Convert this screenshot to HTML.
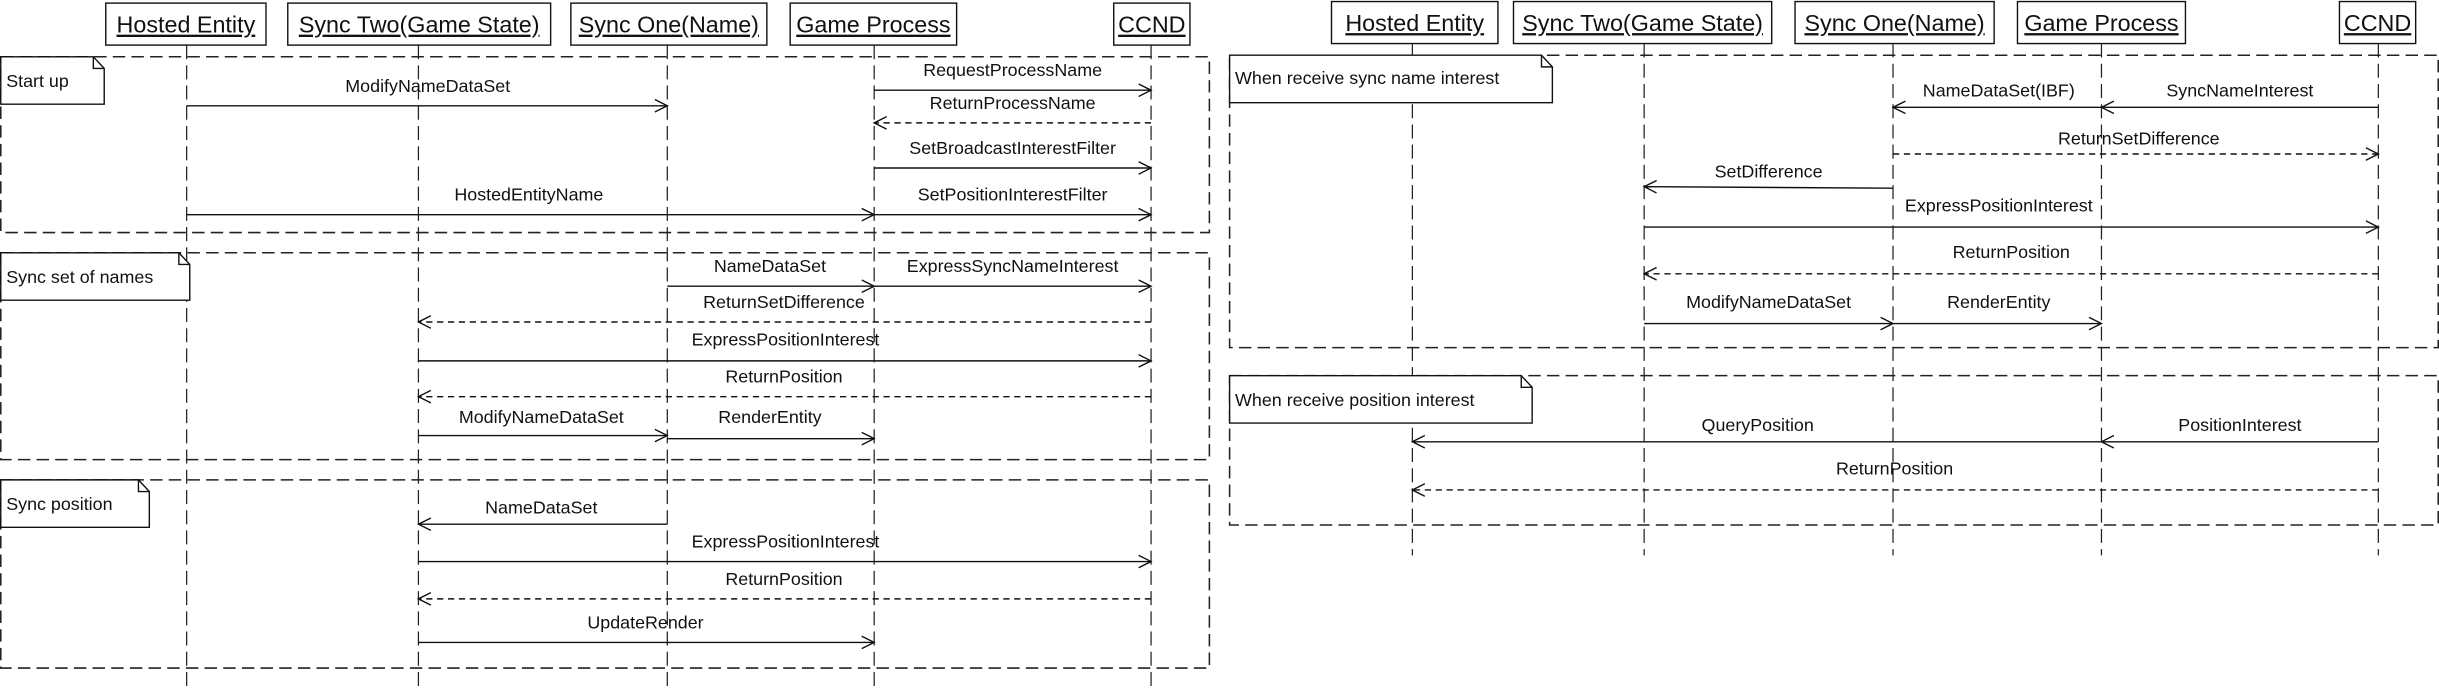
<!DOCTYPE html>
<html><head><meta charset="utf-8"><style>
html,body{margin:0;padding:0;background:#fff;}
svg{display:block;}
text{font-family:"Liberation Sans",sans-serif;font-size:11.5px;fill:#111;}
.h{font-size:15px;text-decoration:underline;}
.ll{stroke:#222;stroke-width:0.8;stroke-dasharray:9 4;fill:none;}
.fr{stroke:#222;stroke-width:1;stroke-dasharray:8 4;fill:none;}
.m{stroke:#111;stroke-width:0.9;fill:none;}
.d{stroke:#111;stroke-width:0.9;fill:none;stroke-dasharray:4 3;}
.box{fill:#fff;stroke:#111;stroke-width:0.9;}
</style></head><body>
<svg width="2439" height="688" viewBox="0 0 1568 442.3" preserveAspectRatio="none" xmlns="http://www.w3.org/2000/svg">
<defs>
<marker id="a" markerWidth="10" markerHeight="10" refX="9" refY="5" orient="auto" markerUnits="userSpaceOnUse">
<path d="M1,1 L9,5 L1,9" fill="none" stroke="#111" stroke-width="0.9"/></marker>
</defs>
<!-- LEFT -->
<g>
<line class="ll" x1="120" y1="29" x2="120" y2="442"/>
<line class="ll" x1="269" y1="29" x2="269" y2="442"/>
<line class="ll" x1="429" y1="29" x2="429" y2="442"/>
<line class="ll" x1="562" y1="29" x2="562" y2="442"/>
<line class="ll" x1="740" y1="29" x2="740" y2="442"/>
<rect class="box" x="68" y="2" width="103" height="27"/><text class="h" x="119.5" y="21" text-anchor="middle">Hosted Entity</text>
<rect class="box" x="185" y="2" width="169" height="27"/><text class="h" x="269.5" y="21" text-anchor="middle">Sync Two(Game State)</text>
<rect class="box" x="367" y="2" width="126" height="27"/><text class="h" x="430" y="21" text-anchor="middle">Sync One(Name)</text>
<rect class="box" x="508" y="2" width="107" height="27"/><text class="h" x="561.5" y="21" text-anchor="middle">Game Process</text>
<rect class="box" x="716" y="2" width="49" height="27"/><text class="h" x="740.5" y="21" text-anchor="middle">CCND</text>

<rect class="fr" x="0.5" y="36.5" width="777" height="113"/>
<path class="box" d="M0.5,36.5 H60 L67,44 V67 H0.5 Z"/><path class="m" d="M60,36.5 V44 H67"/>
<text x="4" y="56">Start up</text>
<line class="m" x1="120" y1="68" x2="429" y2="68" marker-end="url(#a)"/><text x="275" y="59" text-anchor="middle">ModifyNameDataSet</text>
<line class="m" x1="562" y1="58" x2="740" y2="58" marker-end="url(#a)"/><text x="651" y="49" text-anchor="middle">RequestProcessName</text>
<line class="d" x1="740" y1="79" x2="562" y2="79" marker-end="url(#a)"/><text x="651" y="70" text-anchor="middle">ReturnProcessName</text>
<line class="m" x1="562" y1="108" x2="740" y2="108" marker-end="url(#a)"/><text x="651" y="99" text-anchor="middle">SetBroadcastInterestFilter</text>
<line class="m" x1="120" y1="138" x2="562" y2="138" marker-end="url(#a)"/><text x="340" y="129" text-anchor="middle">HostedEntityName</text>
<line class="m" x1="562" y1="138" x2="740" y2="138" marker-end="url(#a)"/><text x="651" y="129" text-anchor="middle">SetPositionInterestFilter</text>

<rect class="fr" x="0.5" y="162.5" width="777" height="133"/>
<path class="box" d="M0.5,162.5 H115 L122,170 V193 H0.5 Z"/><path class="m" d="M115,162.5 V170 H122"/>
<text x="4" y="182">Sync set of names</text>
<line class="m" x1="429" y1="184" x2="562" y2="184" marker-end="url(#a)"/><text x="495" y="175" text-anchor="middle">NameDataSet</text>
<line class="m" x1="562" y1="184" x2="740" y2="184" marker-end="url(#a)"/><text x="651" y="175" text-anchor="middle">ExpressSyncNameInterest</text>
<line class="d" x1="740" y1="207" x2="269" y2="207" marker-end="url(#a)"/><text x="504" y="198" text-anchor="middle">ReturnSetDifference</text>
<line class="m" x1="269" y1="232" x2="740" y2="232" marker-end="url(#a)"/><text x="505" y="222" text-anchor="middle">ExpressPositionInterest</text>
<line class="d" x1="740" y1="255" x2="269" y2="255" marker-end="url(#a)"/><text x="504" y="246" text-anchor="middle">ReturnPosition</text>
<line class="m" x1="269" y1="280" x2="429" y2="280" marker-end="url(#a)"/><text x="348" y="272" text-anchor="middle">ModifyNameDataSet</text>
<line class="m" x1="429" y1="282" x2="562" y2="282" marker-end="url(#a)"/><text x="495" y="272" text-anchor="middle">RenderEntity</text>

<rect class="fr" x="0.5" y="308.5" width="777" height="121"/>
<path class="box" d="M0.5,308.5 H89 L96,316 V339 H0.5 Z"/><path class="m" d="M89,308.5 V316 H96"/>
<text x="4" y="328">Sync position</text>
<line class="m" x1="429" y1="337" x2="269" y2="337" marker-end="url(#a)"/><text x="348" y="330" text-anchor="middle">NameDataSet</text>
<line class="m" x1="269" y1="361" x2="740" y2="361" marker-end="url(#a)"/><text x="505" y="352" text-anchor="middle">ExpressPositionInterest</text>
<line class="d" x1="740" y1="385" x2="269" y2="385" marker-end="url(#a)"/><text x="504" y="376" text-anchor="middle">ReturnPosition</text>
<line class="m" x1="269" y1="413" x2="562" y2="413" marker-end="url(#a)"/><text x="415" y="404" text-anchor="middle">UpdateRender</text>
</g>
<!-- RIGHT -->
<g>
<line class="ll" x1="908" y1="28" x2="908" y2="357"/>
<line class="ll" x1="1057" y1="28" x2="1057" y2="357"/>
<line class="ll" x1="1217" y1="28" x2="1217" y2="357"/>
<line class="ll" x1="1351" y1="28" x2="1351" y2="357"/>
<line class="ll" x1="1529" y1="28" x2="1529" y2="357"/>
<rect class="box" x="856" y="1" width="107" height="27"/><text class="h" x="909.5" y="20" text-anchor="middle">Hosted Entity</text>
<rect class="box" x="973" y="1" width="166" height="27"/><text class="h" x="1056" y="20" text-anchor="middle">Sync Two(Game State)</text>
<rect class="box" x="1154" y="1" width="128" height="27"/><text class="h" x="1218" y="20" text-anchor="middle">Sync One(Name)</text>
<rect class="box" x="1297" y="1" width="108" height="27"/><text class="h" x="1351" y="20" text-anchor="middle">Game Process</text>
<rect class="box" x="1504" y="1" width="49" height="27"/><text class="h" x="1528.5" y="20" text-anchor="middle">CCND</text>

<rect class="fr" x="790.5" y="35.5" width="777" height="188"/>
<path class="box" d="M790.5,35.5 H991 L998,43 V66 H790.5 Z"/><path class="m" d="M991,35.5 V43 H998"/>
<text x="794" y="54">When receive sync name interest</text>
<line class="m" x1="1529" y1="69" x2="1351" y2="69" marker-end="url(#a)"/><text x="1440" y="62" text-anchor="middle">SyncNameInterest</text>
<line class="m" x1="1351" y1="69" x2="1217" y2="69" marker-end="url(#a)"/><text x="1285" y="62" text-anchor="middle">NameDataSet(IBF)</text>
<line class="d" x1="1217" y1="99" x2="1529" y2="99" marker-end="url(#a)"/><text x="1375" y="93" text-anchor="middle">ReturnSetDifference</text>
<line class="m" x1="1217" y1="121" x2="1057" y2="120" marker-end="url(#a)"/><text x="1137" y="114" text-anchor="middle">SetDifference</text>
<line class="m" x1="1057" y1="146" x2="1529" y2="146" marker-end="url(#a)"/><text x="1285" y="136" text-anchor="middle">ExpressPositionInterest</text>
<line class="d" x1="1529" y1="176" x2="1057" y2="176" marker-end="url(#a)"/><text x="1293" y="166" text-anchor="middle">ReturnPosition</text>
<line class="m" x1="1057" y1="208" x2="1217" y2="208" marker-end="url(#a)"/><text x="1137" y="198" text-anchor="middle">ModifyNameDataSet</text>
<line class="m" x1="1217" y1="208" x2="1351" y2="208" marker-end="url(#a)"/><text x="1285" y="198" text-anchor="middle">RenderEntity</text>

<rect class="fr" x="790.5" y="241.5" width="777" height="96"/>
<path class="box" d="M790.5,241.5 H978 L985,249 V272 H790.5 Z"/><path class="m" d="M978,241.5 V249 H985"/>
<text x="794" y="261">When receive position interest</text>
<line class="m" x1="1529" y1="284" x2="1351" y2="284" marker-end="url(#a)"/><text x="1440" y="277" text-anchor="middle">PositionInterest</text>
<line class="m" x1="1351" y1="284" x2="908" y2="284" marker-end="url(#a)"/><text x="1130" y="277" text-anchor="middle">QueryPosition</text>
<line class="d" x1="1529" y1="315" x2="908" y2="315" marker-end="url(#a)"/><text x="1218" y="305" text-anchor="middle">ReturnPosition</text>
</g>
</svg>
</body></html>
